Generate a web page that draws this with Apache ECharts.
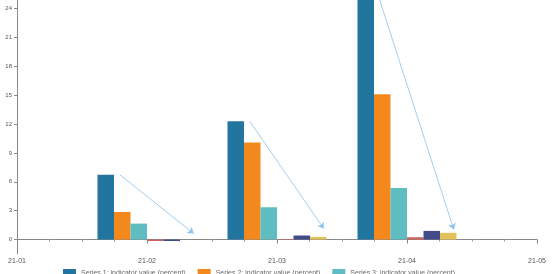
<!DOCTYPE html>
<html>
<head>
<meta charset="utf-8">
<script src="https://cdn.jsdelivr.net/npm/echarts@6/dist/echarts.min.js"></script>
<style>html,body{margin:0;padding:0;background:#fff;}#c{width:554px;height:274px;}</style>
</head>
<body>
<div id="c"></div>
<script>
var xTickLabels = ['21-01', '21-02', '21-03', '21-04', '21-05'];
var months = [1, 2, 3];
var seriesNames = [
  'Series 1: indicator value (percent)',
  'Series 2: indicator value (percent)',
  'Series 3: indicator value (percent)',
  'Series 4: indicator value (percent)',
  'Series 5: indicator value (percent)',
  'Series 6: indicator value (percent)'
];
var s1 = [6.75, 12.3, 24.9];
var s2 = [2.87, 10.1, 15.1];
var s3 = [1.66, 3.36, 5.37];
var s4 = [-0.15, 0.05, 0.24];
var s5 = [-0.15, 0.42, 0.9];
var s6 = [0, 0.28, 0.7];
var yTicks = [0, 3, 6, 9, 12, 15, 18, 21, 24];
var arrowStartOffset = -0.21;
var arrowEndOffset = 0.36;
var arrowEndValues = [0.62, 1.14, 1.04];

var colors = ['#21759f', '#f3891c', '#5fbcc1', '#d0605c', '#434b87', '#e2c35a'];
var allSeries = [s1, s2, s3, s4, s5, s6];

var series = allSeries.map(function (vals, i) {
  return {
    name: seriesNames[i],
    type: 'bar',
    barWidth: 16.5,
    barGap: '0%',
    itemStyle: { color: colors[i] },
    data: months.map(function (m, j) { return [m, vals[j]]; })
  };
});
series.push({
  name: 'arrows',
  type: 'line',
  data: [],
  silent: true,
  markLine: {
    silent: true,
    symbol: ['none', 'arrow'],
    symbolSize: 6,
    label: { show: false },
    lineStyle: { color: '#8cc3ee', width: 0.8, type: 'solid' },
    data: months.map(function (m, j) {
      return [
        { coord: [m + arrowStartOffset, s1[j]] },
        { coord: [m + arrowEndOffset, arrowEndValues[j]] }
      ];
    })
  }
});

var chart = echarts.init(document.getElementById('c'), null, { renderer: 'canvas' });
chart.setOption({
  animation: false,
  color: colors,
  grid: { left: 17, right: 17, top: 0, bottom: 20, containLabel: false },
  legend: {
    left: 63,
    top: 269,
    itemWidth: 13,
    itemHeight: 9,
    itemGap: 12,
    padding: 0,
    icon: 'rect',
    textStyle: { fontSize: 7, color: '#666' },
    data: seriesNames.slice(0, 3)
  },
  xAxis: {
    type: 'value',
    min: 0,
    max: 4,
    interval: 1,
    splitLine: { show: false },
    axisLine: { show: true, lineStyle: { color: '#888' } },
    axisTick: { show: true, length: 4, lineStyle: { color: '#888' } },
    minorTick: { show: true, splitNumber: 4, length: 2, lineStyle: { color: '#999' } },
    axisLabel: {
      fontSize: 7,
      color: '#555',
      margin: 4,
      formatter: function (v) { return xTickLabels[Math.round(v)] || ''; }
    }
  },
  yAxis: {
    type: 'value',
    min: -1.5,
    max: 24.9,
    splitLine: { show: false },
    axisLine: { show: true, lineStyle: { color: '#888' } },
    axisTick: { show: true, length: 3, customValues: yTicks, lineStyle: { color: '#888' } },
    axisLabel: { fontSize: 6, color: '#555', margin: 5, customValues: yTicks }
  },
  series: series
});
</script>
</body>
</html>
